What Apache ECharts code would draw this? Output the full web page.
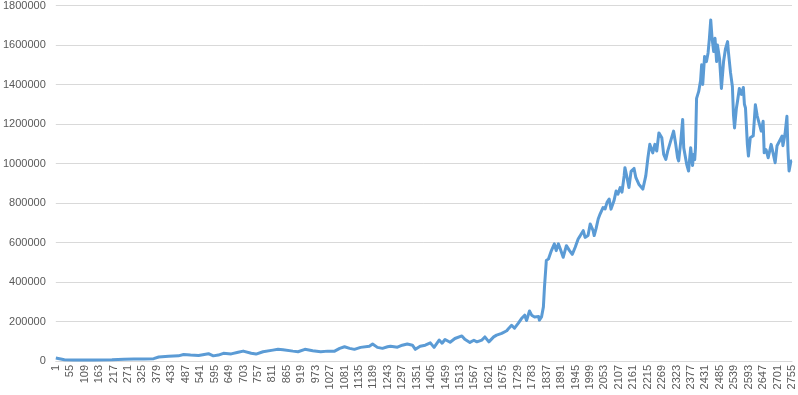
<!DOCTYPE html>
<html><head><meta charset="utf-8">
<script src="https://cdn.jsdelivr.net/npm/echarts@6/dist/echarts.min.js"></script>
<style>html,body{margin:0;padding:0;background:#fff}#c{width:798px;height:395px}</style>
</head><body><div id="c"></div>
<script>
// x positions (0-based observation index; axis labels show index+1)
const xIndex = [0,32,69,106,143,210,255,292,329,366,385,422,459,478,504,534,571,589,608,627,656,682,701,731,749,775,812,831,850,887,906,932,961,991,1017,1043,1062,1080,1099,1117,1140,1173,1185,1203,1222,1241,1252,1278,1296,1315,1334,1345,1363,1382,1401,1415,1434,1445,1456,1475,1493,1519,1530,1549,1564,1575,1594,1605,1620,1638,1649,1668,1687,1694,1705,1716,1731,1742,1754,1761,1772,1780,1791,1806,1809,1817,1824,1828,1835,1843,1854,1865,1872,1880,1887,1898,1910,1921,1932,1943,1954,1962,1973,1980,1991,1999,2010,2014,2021,2029,2036,2047,2055,2062,2070,2077,2088,2096,2103,2111,2118,2126,2129,2137,2144,2152,2163,2170,2181,2196,2207,2215,2222,2233,2241,2248,2256,2267,2274,2282,2289,2300,2311,2319,2326,2330,2338,2345,2349,2360,2367,2375,2382,2386,2390,2393,2397,2405,2412,2416,2420,2427,2434,2440,2445,2450,2455,2461,2466,2472,2475,2483,2490,2498,2505,2513,2516,2524,2531,2535,2539,2546,2550,2557,2565,2572,2576,2580,2587,2591,2598,2609,2617,2624,2628,2639,2646,2650,2657,2665,2676,2683,2691,2698,2706,2717,2720,2728,2735,2739,2743,2750,2754];
const values = [15000,6000,5000,5000,5000,6000,9000,10000,10000,12000,20000,24000,26000,33000,30000,28000,37000,26000,30000,39000,36000,44000,50000,39000,35000,47000,55000,59000,57000,50000,47000,59000,52000,47000,50000,50000,64000,72000,64000,59000,69000,75000,86000,69000,64000,72000,75000,70000,80000,86000,80000,59000,75000,80000,92000,69000,106000,90000,109000,95000,114000,127000,110000,94000,105000,97000,106000,122000,97000,122000,131000,140000,153000,165000,181000,166000,193000,215000,232000,205000,253000,232000,223000,225000,207000,223000,274000,374000,509000,517000,559000,593000,559000,593000,568000,525000,584000,560000,540000,576000,618000,635000,660000,626000,635000,694000,660000,635000,670000,719000,744000,777000,770000,803000,820000,769000,811000,861000,845000,878000,855000,937000,979000,928000,878000,960000,975000,928000,895000,870000,937000,1029000,1097000,1054000,1097000,1063000,1155000,1130000,1046000,1021000,1063000,1113000,1164000,1097000,1029000,1013000,1113000,1223000,1080000,996000,962000,1080000,990000,1046000,1020000,1080000,1330000,1365000,1420000,1500000,1400000,1542000,1516000,1560000,1634000,1727000,1634000,1567000,1634000,1516000,1600000,1530000,1380000,1516000,1580000,1617000,1567000,1460000,1390000,1248000,1180000,1280000,1314000,1380000,1350000,1385000,1300000,1281000,1097000,1038000,1130000,1140000,1298000,1240000,1240000,1164000,1214000,1054000,1070000,1029000,1097000,1054000,1004000,1090000,1110000,1139000,1090000,1150000,1239000,1063000,962000,1013000,1013000];
const xTickStep = 54;
const xMin = 0, xMax = 2754;
const yMin = 0, yMax = 1800000, yStep = 200000;

const data = xIndex.map((x, i) => [x, values[i]]);
const chart = echarts.init(document.getElementById('c'), null, {renderer: 'canvas'});
chart.setOption({
  animation: false,
  backgroundColor: '#fff',
  grid: {left: 50, right: 6, top: 4, bottom: 34, containLabel: false},
  xAxis: {
    type: 'value', min: xMin, max: xMax, interval: xTickStep,
    axisLine: {show: true, lineStyle: {color: '#d9d9d9', width: 1}},
    axisTick: {show: false},
    splitLine: {show: false},
    axisLabel: {rotate: 90, color: '#595959', fontSize: 11, fontFamily: 'Liberation Sans, Arial, sans-serif',
      margin: 4, showMinLabel: true, showMaxLabel: true, formatter: v => String(v + 1)}
  },
  yAxis: {
    type: 'value', min: yMin, max: yMax, interval: yStep,
    axisLine: {show: false}, axisTick: {show: false},
    splitLine: {lineStyle: {color: '#d9d9d9', width: 1}},
    axisLabel: {color: '#595959', fontSize: 11, fontFamily: 'Liberation Sans, Arial, sans-serif', margin: 10,
      formatter: v => String(v)}
  },
  series: [{
    type: 'line', data: data, showSymbol: false, smooth: false,
    lineStyle: {color: '#5B9BD5', width: 3, join: 'round'},
    itemStyle: {color: '#5B9BD5'}
  }]
});
</script></body></html>
